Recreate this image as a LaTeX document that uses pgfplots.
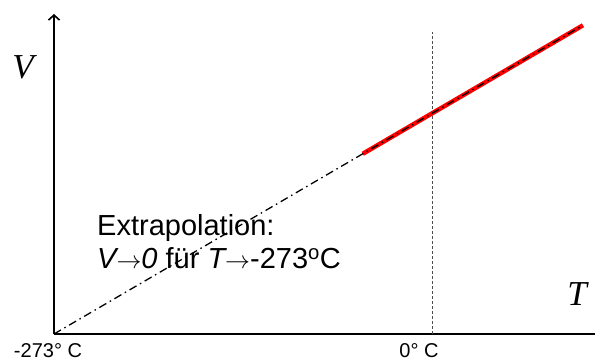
\documentclass[border=0pt]{standalone}
\usepackage{fontspec}
\setmainfont{Liberation Sans}
\newfontfamily\timesfont{Liberation Serif}
\usepackage{pgfplots}
\pgfplotsset{compat=1.18}
\usetikzlibrary{arrows.meta}
\begin{document}
\begin{tikzpicture}
\begin{axis}[
  at={(0,0)}, anchor=south west,
  scale only axis, width=541pt, height=320pt,
  xmin=-273, xmax=117.7, ymin=0, ymax=320,
  axis x line=bottom, axis y line=left,
  x axis line style={-, line width=1.6pt},
  y axis line style={-{Straight Barb[length=5pt,width=11pt,line width=1.6pt]}, line width=1.6pt},
  xtick=\empty, ytick=\empty,
  clip=false,
]
% dashed vertical line at 0 C
\addplot[gray!60!black, line width=0.9pt, dash pattern=on 3pt off 2pt] coordinates {(0,0) (0,302)};
% measured data (red)
\addplot[red, line width=4.5pt] coordinates {(-50,180.2) (0,220.6) (109,308.7)};
% extrapolation line
\addplot[black, line width=1.3pt, dash pattern=on 8pt off 4pt on 1.5pt off 4pt] coordinates {(-273,0) (-50,180.2) (0,220.6) (109,308.7)};
\end{axis}
% labels (tikz coordinates in pt, origin at axis corner)
\node[anchor=base, font=\fontsize{20}{23}\selectfont] at (-6pt,-23.7pt) {-273° C};
\node[anchor=base, font=\fontsize{20}{23}\selectfont] at (365pt,-23.7pt) {0° C};
\node[font=\timesfont\itshape\fontsize{35}{40}\selectfont] at (-31pt,267pt) {V};
\node[font=\timesfont\itshape\fontsize{35}{40}\selectfont] at (523pt,40pt) {T};
\node[anchor=base west, inner sep=0pt, font=\fontsize{29}{33}\selectfont] at (43pt,98.3pt) {Extrapolation:};
\node[anchor=base west, inner sep=0pt, font=\fontsize{29}{33}\selectfont] at (43pt,65pt) {{\itshape V}$\rightarrow${\itshape 0} für {\itshape T}$\rightarrow$-273\textsuperscript{o}C};
\pgfresetboundingbox
\path[use as bounding box] (-54pt,-27pt) rectangle (541pt,334pt);
\end{tikzpicture}
\end{document}
